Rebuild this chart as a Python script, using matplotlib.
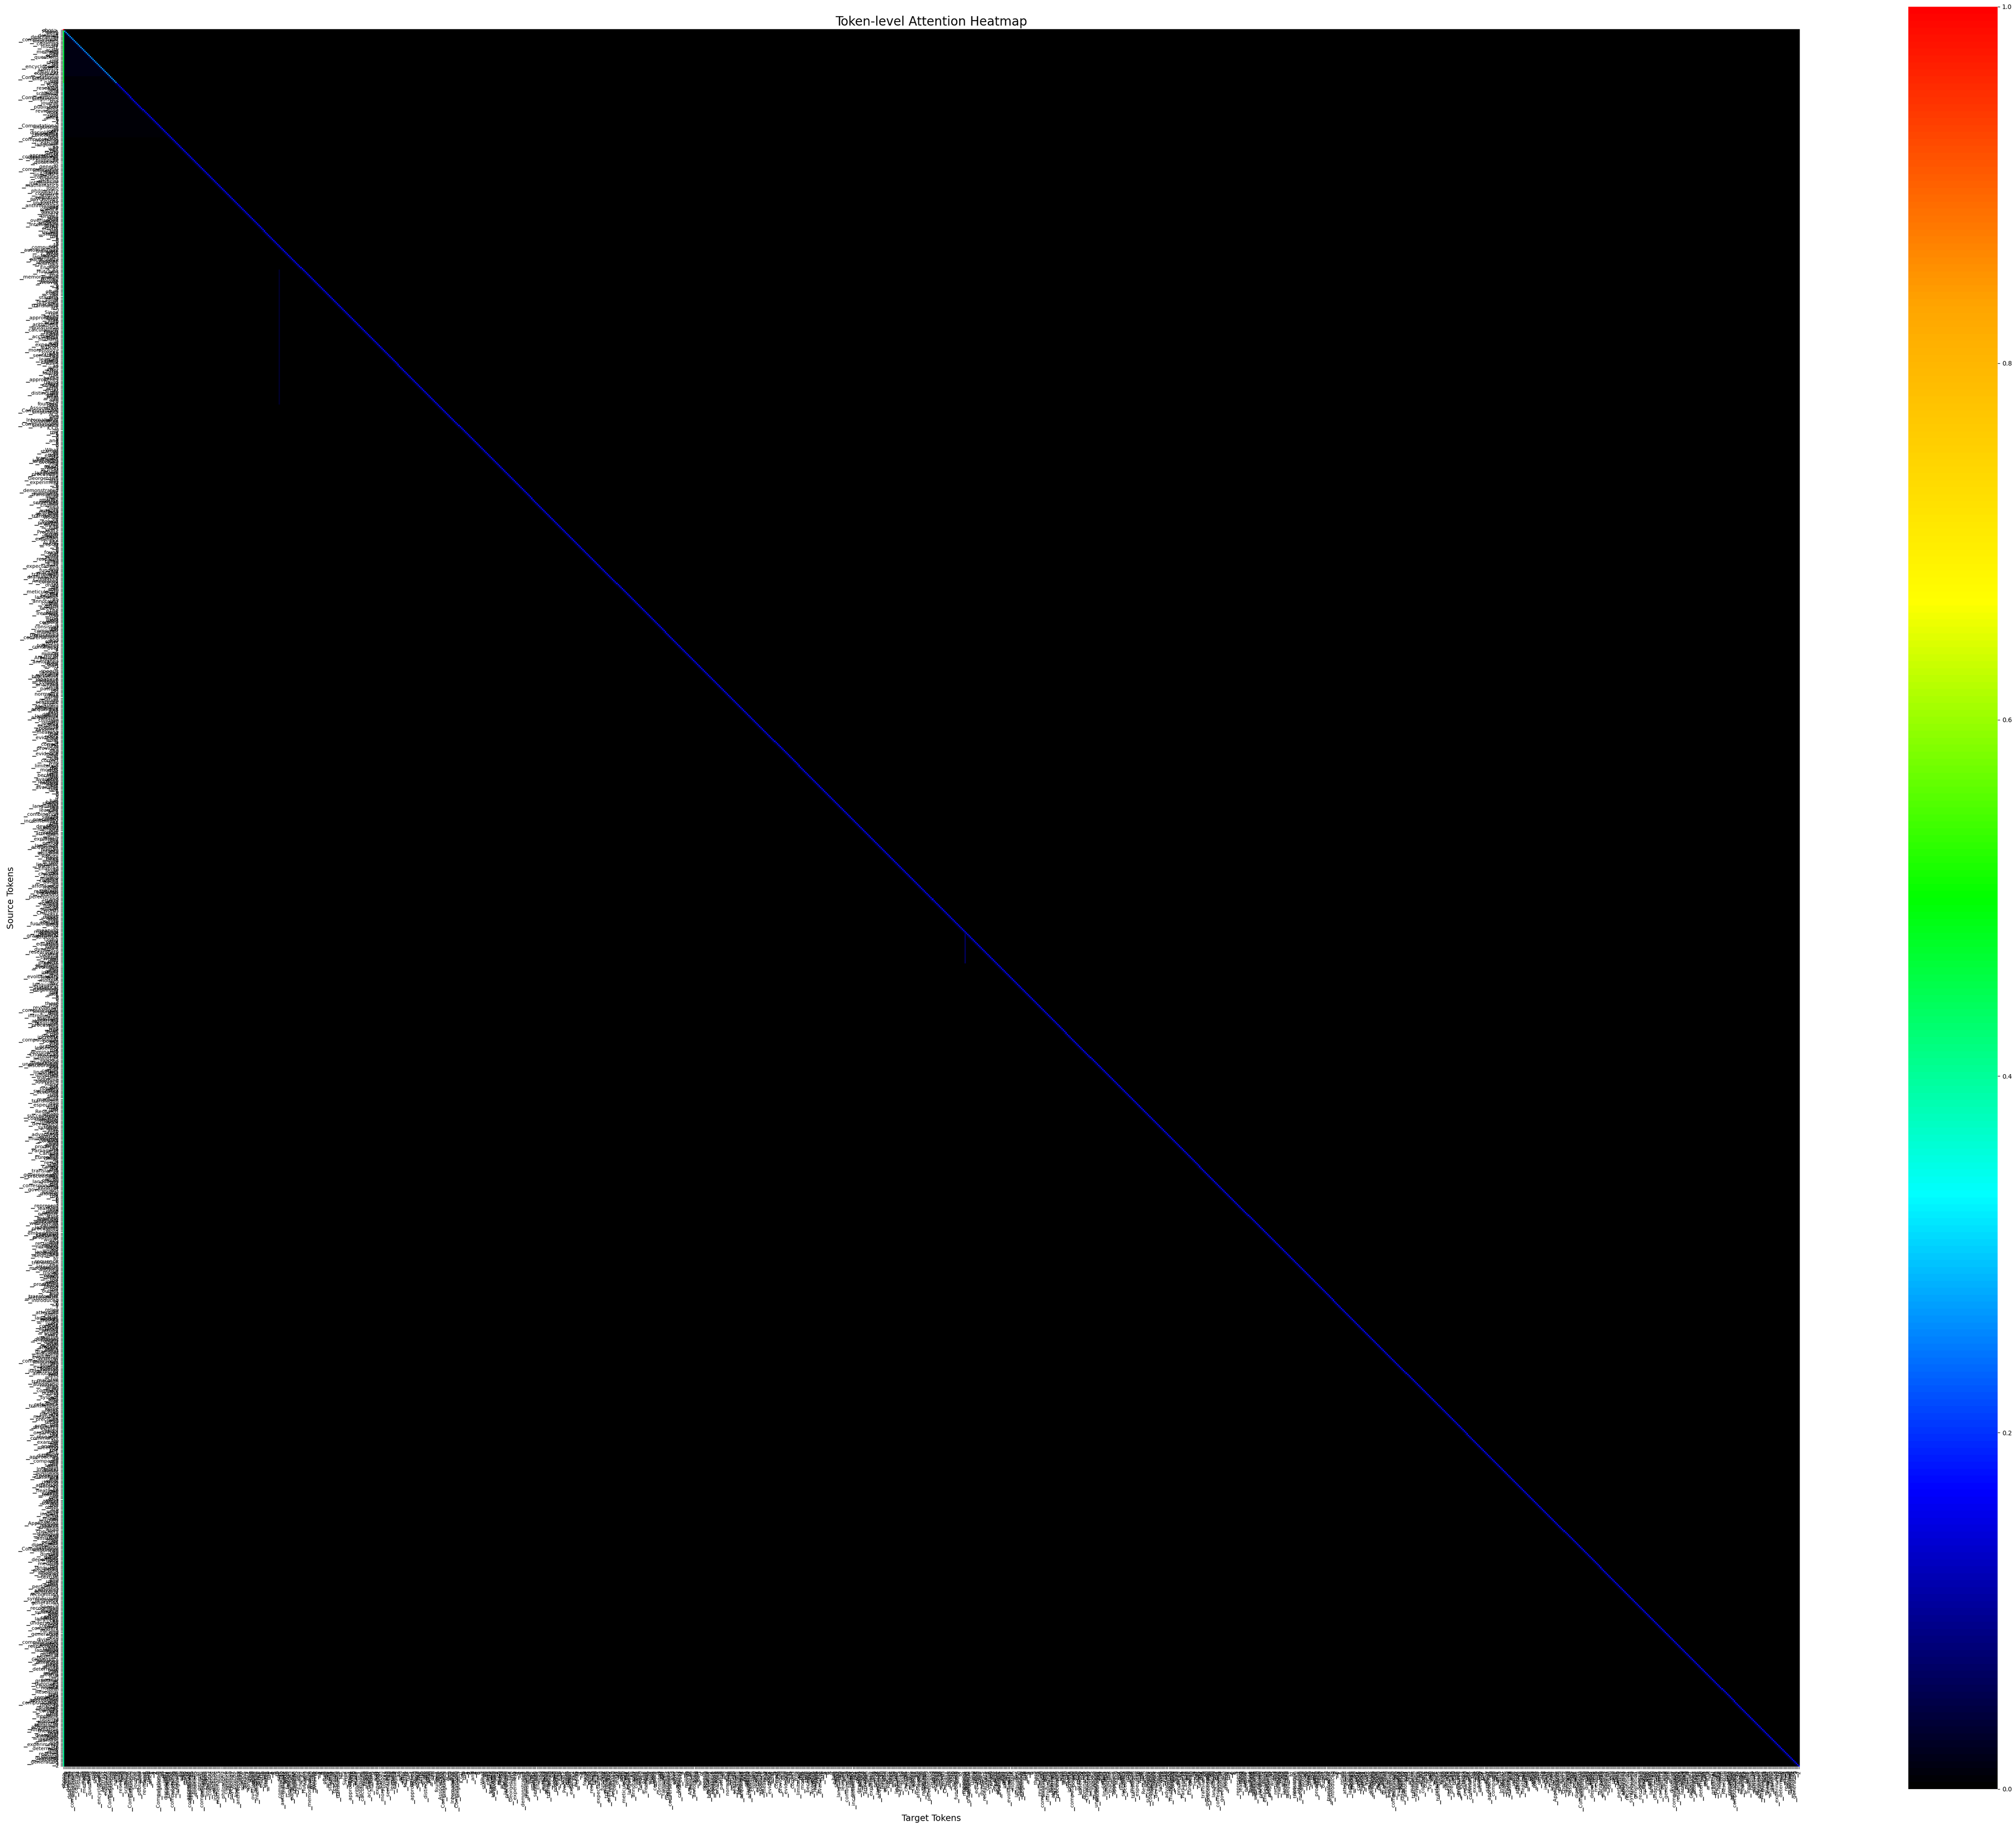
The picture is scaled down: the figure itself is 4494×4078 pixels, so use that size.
import re
import numpy as np
import matplotlib
matplotlib.use("Agg")
import matplotlib.pyplot as plt
from matplotlib.colors import LinearSegmentedColormap

# ---------------- data ----------------
source_text = (
    "Please write a detailed description of computational linguistics, covering its history, its main methods "
    "and its open questions, in the style of an encyclopedia article. "
    "Abstract In computer science, Computational Linguistics is the name of both a research field and a scholarly journal. "
    "Computational Linguistics, the journal, has published peer-reviewed work in the field since 1974. "
    "Computational linguistics is an inter|disciplinary discipline concerned with the computational modeling of natural "
    "language, as well as the study of appropriate computational approaches to linguistic questions. In general, "
    "computational linguistics draws upon linguistics, computer science, artificial intelligence, mathematics, logic, "
    "philosophy, cognitive science, cognitive psychology, psycho|linguistics, anthropology and neuro|science, among others. "
    "Origins The field overlapped with artificial intelligence since the efforts in the United States in the 1950s to use "
    "computers to automatically translate texts from foreign languages, particularly Russian scientific journals, into "
    "English. As Hutchins notes, the memorandum written by Warren Weaver in 1949 is often cited as the starting point of "
    "research on machine translation (MT). Since rule-based approaches were able to make arithmetic (systematic) "
    "calculations much faster and more accurately than humans, it was expected that lexicon, morphology, syntax and "
    "semantics can be learned using explicit rules, as well. After the failure of rule-based approaches, David Hays "
    "coined the term in order to distinguish the field from AI and co-founded both the Association for Computational "
    "Linguistics (ACL) and the International Committee on Computational Linguistics (ICCL) in the 1970s and 1980s. "
    "What started as an effort to translate between languages evolved into a much wider field of natural language processing. "
    "The Georgetown-IBM experiment of 1954 demonstrated the automatic translation of more than sixty Russian sentences "
    "into English, and its authors claimed that machine translation would be a solved problem within three to five years. "
    "Progress was much slower than expected. The ALPAC report of 1966 found that ten years of research had failed to "
    "fulfil expectations, and funding for machine translation was dramatically reduced. "
    "Annotated corpora In order to be able to meticulously study the English language, an annotated text corpus was much "
    "needed. The Penn Treebank was one of the most used corpora. It consisted of IBM computer manuals, transcribed "
    "telephone conversations, and other texts, together containing over 4.5 million words of American English, annotated "
    "using both part-of-speech tagging and syntactic bracketing. Japanese sentence corpora were analyzed and a pattern of "
    "log-normality was found in relation to sentence length. "
    "Modeling language acquisition The fact that during language acquisition, children are largely only exposed to "
    "positive evidence, meaning that the only evidence for what is a correct form is provided, and no evidence for what "
    "is not correct, was a limitation for the models at the time because the now available deep learning models were not "
    "available in late 1980s. It has been shown that languages can be learned with a combination of simple input "
    "presented incrementally as the child develops better memory and longer attention span, which explained the long "
    "period of language acquisition in human infants and children. Robots have been used to test linguistic theories. "
    "Enabled to learn as children might, models were created based on an affordance model in which mappings between "
    "actions, perceptions, and effects were created and linked to spoken words. Crucially, these robots were able to "
    "acquire functioning word-to-meaning mappings without needing grammatical structure. Using the Price equation and "
    "Polya urn dynamics, researchers have created a system which not only predicts future linguistic evolution but also "
    "gives insight into the evolutionary history of modern-day languages. "
    "Statistical methods Beginning in the late 1980s, there was a revolution in computational linguistics with the "
    "introduction of machine learning algorithms for language processing. This was due both to the steady increase in "
    "computational power and to the gradual lessening of the dominance of Chomskyan theories of linguistics, whose "
    "theoretical underpinnings discouraged the sort of corpus linguistics that underlies the machine-learning approach. "
    "Many of the notable early successes occurred in the field of machine translation, due especially to work at IBM "
    "Research, where successively more complicated statistical models were developed. These systems were able to take "
    "advantage of existing multilingual textual corpora that had been produced by the Parliament of Canada and the "
    "European Union as a result of laws calling for the translation of all governmental proceedings into all official "
    "languages of the corresponding systems of government. "
    "Neural models In the 2010s, represent|ation learning and deep neural network-style machine learning methods became "
    "widespread in natural language processing. Word embeddings captured semantic properties of words, and recurrent "
    "neural networks were used for language modeling and sequence-to-sequence translation. The attention mechanism "
    "allowed a model to weigh each token of the input when producing each token of the output, and the transformer "
    "architecture, introduced in 2017, relies on attention alone. Large language models trained on very large corpora "
    "now achieve strong results on many tasks, although questions remain about what such models actually learn about "
    "grammar and meaning. "
    "Evaluation Systems in computational linguistics are usually evaluated against human judgements or annotated test "
    "sets. For machine translation, automatic metrics such as BLEU compare the output of a system with one or more "
    "reference translations, while tasks such as parsing are measured by precision and recall of the predicted "
    "structures. Shared tasks organized by the research community, for example at the annual meeting of the ACL, allow "
    "different approaches to be compared on the same data. Interpret|ability methods, including probing classifiers and "
    "the visual|ization of attention weights as a heatmap with source tokens on one axis and target tokens on the other, "
    "are used to inspect what a model has learned. Applications include search engines, spell checkers, dialogue "
    "systems and assistive tools for people with disabilities. "
    "Subfields Computational linguistics can be divided into major areas depending upon the medium of the language being "
    "processed, whether spoken or textual, and upon the task being performed, whether analyzing language (recognition) "
    "or synthesizing language (generation). Speech recognition and speech synthesis deal with how spoken language can be "
    "understood or created using computers. Parsing and generation are sub-divisions of computational linguistics "
    "dealing respectively with taking language apart and putting it together. "
    "Chomsky's theories Attempts have been made to determine how an infant learns a non-normal grammar as theorized by "
    "Chomsky normal form. Research in this area combines structural approaches with computational models to analyze "
    "large linguistic corpora like the Penn Treebank, helping to uncover patterns in language acquisition. Alternative "
    "theories hold that grammar emerges from general learning, and experiments try to determine how a child reaches a "
    "normal grammar capable of generating ?/2"
)

# attention levels: (start_row, end_row, value)
diagonal_levels = [(0, 1, 1.0), (1, 40, 0.26), (40, 2000, 0.17)]
first_column_levels = [(1, 40, 0.45), (40, 2000, 0.40)]
background_levels = [(0, 35, 0.012), (35, 80, 0.004), (80, 2000, 0.002)]
near_diagonal_levels = [0.05, 0.02]              # offsets 1, 2 below diagonal
faint_streaks = [(160, 178, 278, 0.03), (668, 668, 692, 0.06)]  # (col, row_start, row_end, value)

colorbar_ticks = [0.0, 0.2, 0.4, 0.6, 0.8, 1.0]
cmap_colors = ["black", "blue", "cyan", "lime", "yellow", "orange", "red"]


def tokenize(text):
    toks = ["<bos>"]
    for m in re.finditer(r"(\s*)([A-Za-z|']+|\d|[^\sA-Za-z\d])", text):
        space, piece = m.groups()
        for k, p in enumerate(piece.split("|")):
            toks.append(("\u2581" if (k == 0 and space) else "") + p)
    return toks


tokens = tokenize(source_text)
N = len(tokens)

att = np.zeros((N, N))
lower = np.tril(np.ones((N, N), dtype=bool), -1)
for s, e, v in background_levels:
    blk = att[s:e]
    blk[lower[s:e]] = v
for k, v in enumerate(near_diagonal_levels, start=1):
    idx = np.arange(k, N)
    att[idx, idx - k] = v
for col, r0, r1, v in faint_streaks:
    att[r0:min(r1, N), col] = v
for s, e, v in first_column_levels:
    att[s:min(e, N), 0] = v
for s, e, v in diagonal_levels:
    idx = np.arange(s, min(e, N))
    att[idx, idx] = v

# ---------------- plot ----------------
W, H = 4494, 4078
fig = plt.figure(figsize=(W / 100, H / 100), dpi=100)
ax = fig.add_axes([140 / W, 1 - 3939 / H, 3872 / W, 3874 / H])
cax = fig.add_axes([4254 / W, 1 - 3989 / H, 199 / W, 3974 / H])

cmap = LinearSegmentedColormap.from_list("attn", cmap_colors)
im = ax.imshow(att, cmap=cmap, vmin=0, vmax=1, aspect="auto", interpolation="nearest")

ax.set_xticks(np.arange(N))
ax.set_yticks(np.arange(N))
ax.set_xticklabels(tokens, rotation=90, fontsize=8)
ax.set_yticklabels(tokens, rotation=0, fontsize=8)
for sp in ax.spines.values():
    sp.set_visible(False)

ax.set_title("Token-level Attention Heatmap", fontsize=20)
ax.set_xlabel("Target Tokens", fontsize=14)
ax.set_ylabel("Source Tokens", fontsize=14)

cb = fig.colorbar(im, cax=cax, ticks=colorbar_ticks)
cb.outline.set_visible(False)
cb.ax.tick_params(labelsize=10)

fig.savefig("out.png", dpi=100)

if not (1265 <= N <= 1315):
    raise ValueError(f"token count {N}")
